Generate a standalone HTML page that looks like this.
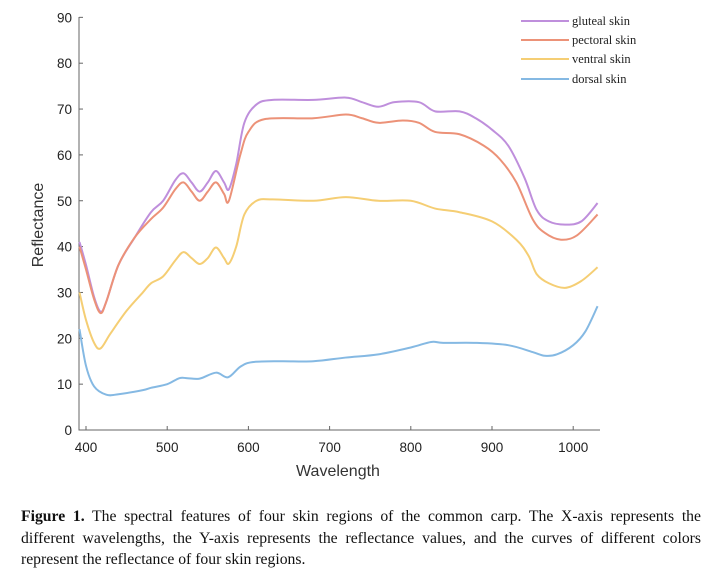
<!DOCTYPE html>
<html><head><meta charset="utf-8"><style>
body{margin:0;background:#fff;width:713px;height:572px;overflow:hidden;position:relative}
.cap{position:absolute;left:21px;top:506px;width:680px;font-family:"Liberation Serif",serif;font-size:15.7px;line-height:21.5px;color:#111}
.cap div.j{text-align:justify;text-align-last:justify;white-space:nowrap}
</style></head><body>
<svg id="s" width="713" height="500" style="position:absolute;left:0;top:0" font-family="Liberation Sans, sans-serif">
<g stroke="#666" stroke-width="1" fill="none">
<path d="M79,17V430H600"/>
</g>
<g id="ticks"></g>
<text x="43" y="225" font-size="16" fill="#333" text-anchor="middle" transform="rotate(-90 43 225)">Reflectance</text>
<text x="338" y="476" font-size="16" fill="#333" text-anchor="middle">Wavelength</text>
<g id="curves" fill="none" stroke-width="2"></g>
<g font-family="Liberation Serif, serif" font-size="12.5" fill="#222">
<line x1="521" y1="21" x2="569" y2="21" stroke="#bf8fdc" stroke-width="2"/><text x="572" y="25">gluteal skin</text>
<line x1="521" y1="40" x2="569" y2="40" stroke="#ec9278" stroke-width="2"/><text x="572" y="44">pectoral skin</text>
<line x1="521" y1="59" x2="569" y2="59" stroke="#f5ce74" stroke-width="2"/><text x="572" y="63">ventral skin</text>
<line x1="521" y1="79" x2="569" y2="79" stroke="#85b9e3" stroke-width="2"/><text x="572" y="83">dorsal skin</text>
</g>
</svg>
<div class="cap"><div class="j"><b>Figure 1.</b> The spectral features of four skin regions of the common carp. The X-axis represents the</div><div class="j">different wavelengths, the Y-axis represents the reflectance values, and the curves of different colors</div><div>represent the reflectance of four skin regions.</div></div>
<script>
var NS="http://www.w3.org/2000/svg";
function X(n){return 86+(n-400)*0.812}
function Y(v){return 430-v*4.585}
var t=document.getElementById("ticks"),h="";
for(var v=0;v<=90;v+=10){h+='<line x1="79" x2="83" y1="'+Y(v)+'" y2="'+Y(v)+'" stroke="#666"/><text x="72" y="'+(Y(v)+5)+'" font-size="13.5" fill="#222" text-anchor="end">'+v+'</text>';}
for(var n=400;n<=1000;n+=100){h+='<line x1="'+X(n)+'" x2="'+X(n)+'" y1="430" y2="426" stroke="#666"/><text x="'+X(n)+'" y="452" font-size="13.5" fill="#222" text-anchor="middle">'+n+'</text>';}
t.innerHTML=h;
var D={
"#bf8fdc":[[392,41],[400,36],[410,29],[418,25.8],[425,28],[440,36],[460,42],[480,47.5],[495,50],[510,54.5],[520,56],[530,54],[540,52],[550,54],[560,56.5],[570,54],[576,52.5],[585,58],[595,67],[610,71],[630,72],[680,72],[720,72.5],[740,71.5],[760,70.5],[780,71.5],[810,71.5],[830,69.5],[860,69.5],[880,68],[900,65.5],[920,62],[940,55],[955,48],[970,45.5],[990,44.8],[1010,45.5],[1030,49.5]],
"#ec9278":[[392,40],[400,35],[410,28.5],[418,25.5],[425,28],[440,36],[460,42],[480,46],[495,48.5],[510,52.5],[520,54],[530,52],[540,50],[550,52],[560,54],[570,51.5],[576,50],[590,60],[600,65],[620,67.8],[680,68],[720,68.8],[740,68],[760,67],[790,67.5],[810,67],[830,65],[860,64.5],[890,62],[910,59],[930,54],[950,46],[965,43],[985,41.5],[1005,42.5],[1030,47]],
"#f5ce74":[[392,30],[400,24],[410,19],[418,17.8],[430,21],[450,26],[470,30],[480,32],[495,33.5],[510,37],[520,38.8],[530,37.5],[540,36.2],[550,37.5],[560,39.8],[570,37.5],[576,36.3],[585,40],[595,47],[610,50],[630,50.3],[680,50],[720,50.8],[760,50],[800,50],[830,48.3],[860,47.5],[900,45.5],[930,41.5],[945,38],[955,34],[970,32],[990,31],[1010,32.5],[1030,35.5]],
"#85b9e3":[[392,22],[400,14],[410,9.5],[425,7.7],[440,7.8],[470,8.7],[480,9.2],[500,10],[515,11.3],[525,11.3],[540,11.2],[560,12.5],[575,11.5],[590,13.8],[605,14.8],[640,15],[680,15],[720,15.8],[760,16.5],[800,18],[825,19.2],[840,19],[880,19],[920,18.5],[950,17],[965,16.2],[980,16.5],[1000,18.5],[1015,21.5],[1030,27]]};
var g=document.getElementById("curves");
for(var c in D){var p=D[c].map(function(a){return[X(a[0]),Y(a[1])]});
var d="M"+p[0][0]+","+p[0][1];
for(var i=0;i<p.length-1;i++){var p0=p[i-1]||p[i],p1=p[i],p2=p[i+1],p3=p[i+2]||p2;
d+="C"+(p1[0]+(p2[0]-p0[0])/6)+","+(p1[1]+(p2[1]-p0[1])/6)+" "+(p2[0]-(p3[0]-p1[0])/6)+","+(p2[1]-(p3[1]-p1[1])/6)+" "+p2[0]+","+p2[1];}
var e=document.createElementNS(NS,"path");e.setAttribute("d",d);e.setAttribute("stroke",c);g.appendChild(e);}
</script>
</body></html>
